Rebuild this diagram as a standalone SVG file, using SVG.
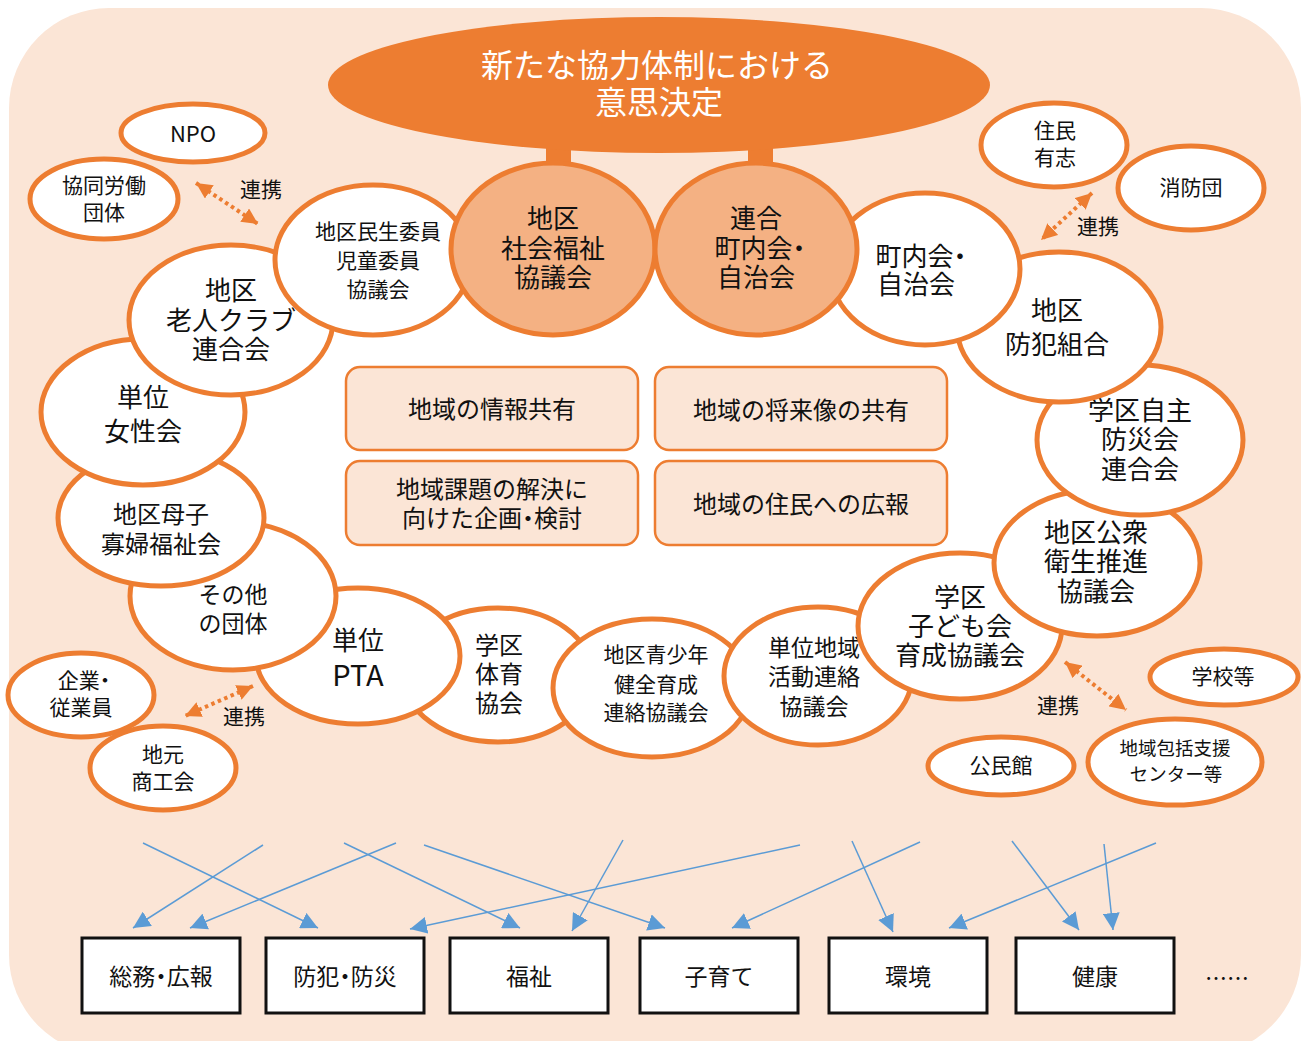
<svg xmlns="http://www.w3.org/2000/svg" width="1308" height="1041" viewBox="0 0 1308 1041">
<style>
text{font-family:"Noto Sans CJK JP","Noto Sans",sans-serif;fill:#111;text-anchor:middle;dominant-baseline:central;transform:translateY(-2px)}
.h{font-feature-settings:"halt"}
.w{fill:#fff;stroke:#ED7D31;stroke-width:5}
.o{fill:#F4B183;stroke:#ED7D31;stroke-width:5}
.b{fill:#FBE5D6;stroke:#ED7D31;stroke-width:2.5}
.k{fill:#fff;stroke:#111;stroke-width:3}
.blue{stroke:#5B9BD5;stroke-width:1.5;fill:none;marker-end:url(#ab)}
.dot{stroke:#ED7D31;stroke-width:4;stroke-dasharray:3.5 3.5;fill:none;marker-start:url(#ao);marker-end:url(#ao)}
.f26{font-size:26px}.f24{font-size:24px}.f23{font-size:23px}.f21{font-size:21px}.f19{font-size:18.5px}
</style>
<defs>
<marker id="ab" viewBox="0 0 10 10" refX="10" refY="5" markerUnits="userSpaceOnUse" markerWidth="17" markerHeight="17" orient="auto"><path d="M0,0 L10,5 L0,10 z" fill="#5B9BD5"/></marker>
<marker id="ao" viewBox="0 0 10 10" refX="10" refY="5" markerUnits="userSpaceOnUse" markerWidth="16" markerHeight="16" orient="auto-start-reverse"><path d="M0,0 L10,5 L0,10 z" fill="#ED7D31"/></marker>
</defs>
<rect x="0" y="0" width="1308" height="1041" fill="#fff"/>
<rect x="9" y="8" width="1292" height="1047" rx="100" fill="#FBE5D6"/>
<polygon fill="#fff" points="375,259 553,249 655,252 756,249 925,269 1059,327 1140,440 1097,563 960,626 816,676 652,688 498,675 358,656 233,596 161,517 143,412 231,320"/>

<g id="decision">
<rect x="546" y="140" width="25" height="30" fill="#ED7D31"/>
<rect x="748" y="140" width="25" height="30" fill="#ED7D31"/>
<ellipse cx="659" cy="85" rx="331" ry="68" fill="#ED7D31"/>
<text x="657" y="65" style="font-size:32px;fill:#fff">新たな協力体制における</text>
<text x="659" y="102" style="font-size:32px;fill:#fff">意思決定</text>
</g>

<g id="n-taiiku"><ellipse class="w" cx="498" cy="675" rx="95" ry="67"/><text class="f24" x="499" y="645">学区</text><text class="f24" x="499" y="674">体育</text><text class="f24" x="499" y="703">協会</text></g>
<g id="n-pta"><ellipse class="w" cx="358" cy="656" rx="102" ry="68"/><text class="f26" x="358" y="640">単位</text><text x="358" y="675" style="font-size:29px">PTA</text></g>
<g id="n-sonota"><ellipse class="w" cx="233" cy="596" rx="103" ry="74"/><text class="f23" x="233" y="595">その他</text><text class="f23" x="233" y="624">の団体</text></g>
<g id="n-boshi"><ellipse class="w" cx="161" cy="518" rx="103" ry="68"/><text class="f24" x="161" y="514">地区母子</text><text class="f24" x="161" y="544">寡婦福祉会</text></g>
<g id="n-josei"><ellipse class="w" cx="143" cy="412" rx="102" ry="73"/><text class="f26" x="143" y="397">単位</text><text class="f26" x="143" y="431">女性会</text></g>
<g id="n-rojin"><ellipse class="w" cx="231" cy="320" rx="102" ry="75"/><text class="f26" x="231" y="290">地区</text><text class="f26" x="231" y="320">老人クラブ</text><text class="f26" x="231" y="349">連合会</text></g>
<g id="n-minsei"><ellipse class="w" cx="373" cy="260" rx="98" ry="75"/><text class="f21" x="378" y="232">地区民生委員</text><text class="f21" x="378" y="261">児童委員</text><text class="f21" x="378" y="290">協議会</text></g>
<g id="n-shakyo"><ellipse class="o" cx="553" cy="249" rx="102" ry="86"/><text class="f26" x="553" y="218">地区</text><text class="f26" x="553" y="248">社会福祉</text><text class="f26" x="553" y="277">協議会</text></g>

<g id="n-seishonen"><ellipse class="w" cx="652" cy="688" rx="99" ry="69"/><text class="f21" x="656" y="655">地区青少年</text><text class="f21" x="656" y="685">健全育成</text><text class="f21" x="656" y="713">連絡協議会</text></g>
<g id="n-tanichiiki"><ellipse class="w" cx="818" cy="676" rx="94" ry="69"/><text class="f23" x="814" y="648">単位地域</text><text class="f23" x="814" y="677">活動連絡</text><text class="f23" x="814" y="707">協議会</text></g>
<g id="n-kodomo"><ellipse class="w" cx="960" cy="626" rx="102" ry="73"/><text class="f26" x="960" y="597">学区</text><text class="f26" x="960" y="626">子ども会</text><text class="f26" x="960" y="655">育成協議会</text></g>
<g id="n-eisei"><ellipse class="w" cx="1097" cy="563" rx="103" ry="73"/><text class="f26" x="1096" y="532">地区公衆</text><text class="f26" x="1096" y="561">衛生推進</text><text class="f26" x="1096" y="591">協議会</text></g>
<g id="n-bosai"><ellipse class="w" cx="1140" cy="440" rx="103" ry="75"/><text class="f26" x="1140" y="410">学区自主</text><text class="f26" x="1140" y="439">防災会</text><text class="f26" x="1140" y="469">連合会</text></g>
<g id="n-bohan"><ellipse class="w" cx="1059" cy="327" rx="102" ry="75"/><text class="f26" x="1057" y="310">地区</text><text class="f26" x="1057" y="344">防犯組合</text></g>
<g id="n-chonai"><ellipse class="w" cx="925" cy="269" rx="95" ry="76"/><text class="f26 h" x="921" y="256">町内会・</text><text class="f26" x="916" y="284">自治会</text></g>
<g id="n-rengo"><ellipse class="o" cx="756" cy="249" rx="101" ry="86"/><text class="f26" x="756" y="218">連合</text><text class="f26 h" x="760" y="248">町内会・</text><text class="f26" x="756" y="277">自治会</text></g>

<g id="n-npo"><ellipse class="w" cx="193" cy="133" rx="72" ry="29"/><text x="193" y="134" style="font-size:22px">NPO</text></g>
<g id="n-kyodo"><ellipse class="w" cx="104" cy="199" rx="74" ry="40"/><text class="f21" x="104" y="186">協同労働</text><text class="f21" x="104" y="213">団体</text></g>
<g id="n-jumin"><ellipse class="w" cx="1054" cy="145" rx="73" ry="42"/><text class="f21" x="1055" y="131">住民</text><text class="f21" x="1055" y="158">有志</text></g>
<g id="n-shobo"><ellipse class="w" cx="1191" cy="188" rx="73" ry="42"/><text class="f21" x="1191" y="188">消防団</text></g>
<g id="n-kigyo"><ellipse class="w" cx="81" cy="695" rx="73" ry="42"/><text class="f21 h" x="84" y="681">企業・</text><text class="f21" x="81" y="708">従業員</text></g>
<g id="n-shoko"><ellipse class="w" cx="163" cy="768" rx="73" ry="42"/><text class="f21" x="163" y="755">地元</text><text class="f21" x="163" y="782">商工会</text></g>
<g id="n-gakko"><ellipse class="w" cx="1224" cy="677" rx="74" ry="28"/><text class="f21" x="1223" y="677">学校等</text></g>
<g id="n-kominkan"><ellipse class="w" cx="1001" cy="766" rx="73" ry="29"/><text class="f21" x="1001" y="766">公民館</text></g>
<g id="n-hokatsu"><ellipse class="w" cx="1175" cy="762" rx="87" ry="43"/><text class="f19" x="1175" y="749">地域包括支援</text><text class="f19" x="1176" y="775">センター等</text></g>

<g id="n-box1"><rect class="b" x="346" y="367" width="292" height="83" rx="14"/><text class="f24" x="492" y="409">地域の情報共有</text></g>
<g id="n-box2"><rect class="b" x="655" y="367" width="292" height="83" rx="14"/><text class="f24" x="801" y="410">地域の将来像の共有</text></g>
<g id="n-box3"><rect class="b" x="346" y="461" width="292" height="84" rx="14"/><text class="f24" x="492" y="489">地域課題の解決に</text><text class="f24 h" x="492" y="518">向けた企画・検討</text></g>
<g id="n-box4"><rect class="b" x="655" y="461" width="292" height="84" rx="14"/><text class="f24" x="801" y="504">地域の住民への広報</text></g>

<g id="n-soumu"><rect class="k" x="82" y="938" width="158" height="75"/><text class="f23 h" x="161" y="977">総務・広報</text></g>
<g id="n-bohanbosai"><rect class="k" x="266" y="938" width="158" height="75"/><text class="f23 h" x="345" y="977">防犯・防災</text></g>
<g id="n-fukushi"><rect class="k" x="450" y="938" width="158" height="75"/><text class="f23" x="529" y="977">福祉</text></g>
<g id="n-kosodate"><rect class="k" x="640" y="938" width="158" height="75"/><text class="f23" x="719" y="977">子育て</text></g>
<g id="n-kankyo"><rect class="k" x="829" y="938" width="158" height="75"/><text class="f23" x="908" y="977">環境</text></g>
<g id="n-kenko"><rect class="k" x="1016" y="938" width="158" height="75"/><text class="f23" x="1095" y="977">健康</text></g>
<text x="1227" y="978" style="font-size:22px">……</text>

<g id="connectors">
<line class="dot" x1="196" y1="183" x2="258" y2="224"/>
<line class="dot" x1="1092" y1="193" x2="1041" y2="240"/>
<line class="dot" x1="253" y1="686" x2="185" y2="716"/>
<line class="dot" x1="1065" y1="662" x2="1126" y2="710"/>
<text class="f21" x="261" y="190">連携</text>
<text class="f21" x="1098" y="227">連携</text>
<text class="f21" x="244" y="717">連携</text>
<text class="f21" x="1058" y="706">連携</text>
<line class="blue" x1="143" y1="843" x2="318" y2="928"/>
<line class="blue" x1="263" y1="845" x2="133" y2="928"/>
<line class="blue" x1="396" y1="843" x2="190" y2="928"/>
<line class="blue" x1="344" y1="843" x2="520" y2="928"/>
<line class="blue" x1="424" y1="845" x2="665" y2="928"/>
<line class="blue" x1="623" y1="840" x2="572" y2="931"/>
<line class="blue" x1="800" y1="845" x2="410" y2="929"/>
<line class="blue" x1="920" y1="842" x2="732" y2="928"/>
<line class="blue" x1="852" y1="841" x2="893" y2="932"/>
<line class="blue" x1="1012" y1="841" x2="1079" y2="930"/>
<line class="blue" x1="1104" y1="844" x2="1113" y2="930"/>
<line class="blue" x1="1156" y1="843" x2="949" y2="928"/>
</g>
</svg>
